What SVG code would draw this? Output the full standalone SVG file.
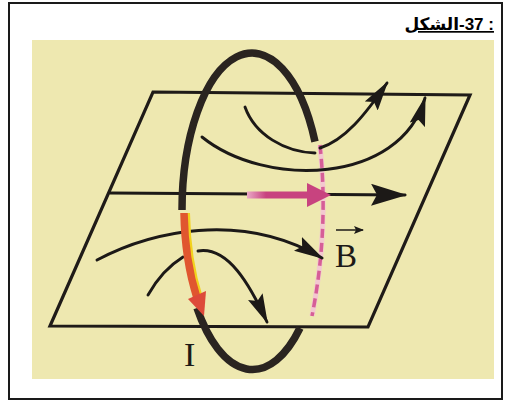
<svg xmlns="http://www.w3.org/2000/svg" width="505" height="401" viewBox="0 0 505 401">
  <style>
    .edge { fill: none; stroke: #1f1b18; stroke-width: 3.2; stroke-linejoin: miter; }
    .field { fill: none; stroke: #1c1917; stroke-width: 2.9; stroke-linecap: round; }
    .ring { fill: none; stroke: #2a2420; stroke-width: 7.5; stroke-linecap: butt; }
    .label { font-family: "Liberation Serif", "Times New Roman", serif; fill: #1d1a17; }
    .title { font-family: "Liberation Sans", "DejaVu Sans", sans-serif; font-weight: bold; font-size: 17px; fill: #000; text-decoration: underline; }
  </style>
  <defs>
    <marker id="head" markerUnits="userSpaceOnUse" viewBox="0 0 30 16" refX="28" refY="8" markerWidth="30" markerHeight="16" orient="auto">
      <path d="M0,0 L30,8 L0,16 L5,8 z" fill="#1c1917"/>
    </marker>
    <marker id="headBig" markerUnits="userSpaceOnUse" viewBox="0 0 36 22" refX="34" refY="11" markerWidth="36" markerHeight="22" orient="auto">
      <path d="M0,0 L36,11 L0,22 L6,11 z" fill="#1c1917"/>
    </marker>
    <marker id="headSmall" markerUnits="userSpaceOnUse" viewBox="0 0 10 8" refX="9" refY="4" markerWidth="10" markerHeight="8" orient="auto">
      <path d="M0,0 L10,4 L0,8 L2,4 z" fill="#1d1a17"/>
    </marker>
    <linearGradient id="bFade" x1="247" y1="0" x2="266" y2="0" gradientUnits="userSpaceOnUse">
      <stop offset="0" stop-color="#eaa9c6"/>
      <stop offset="1" stop-color="#c8437f"/>
    </linearGradient>
  </defs>

  <!-- frame -->
  <rect x="9" y="3" width="493" height="396" fill="#ffffff" stroke="#1a1a1a" stroke-width="2"/>

  <!-- title: Arabic word and figure number set as two runs so the word stays on the left -->
  <g id="title">
    <text class="title" x="459" y="30" text-anchor="end">الشكل</text>
    <text class="title" x="459" y="30" text-anchor="start">-37 :</text>
  </g>

  <!-- picture background -->
  <rect x="32" y="40" width="462" height="339" fill="#eee8b0"/>

  <!-- plane -->
  <g id="plane">
    <path class="edge" d="M153,92 L470,95 L368,327 L50,326 Z"/>
  </g>

  <!-- rear part of the loop, seen through the plane -->
  <g id="loop-rear">
    <path d="M320,145 Q329,230 312,316" fill="none" stroke="#f3c8d0" stroke-width="5"/>
    <path d="M320,145 Q329,230 312,316" fill="none" stroke="#d65e97" stroke-width="3.5" stroke-dasharray="9 5"/>
  </g>

  <!-- field lines -->
  <g id="connectors">
    <path class="field" d="M245,107 C255,135 285,152 315,153"/>
    <path class="field" d="M320,148 C345,140 365,115 387,83" marker-end="url(#head)"/>
    <path class="field" d="M202,137 C265,188 400,185 425,98" marker-end="url(#head)"/>
    <path class="field" d="M110,193 L405,195" marker-end="url(#headBig)"/>
    <path class="field" d="M97,260 C150,232 240,210 322,258" marker-end="url(#head)"/>
    <path class="field" d="M148,295 Q162,270 183,257"/>
    <path class="field" d="M198,251 C228,246 250,285 267,322" marker-end="url(#head)"/>
  </g>

  <!-- field vector B at the centre -->
  <g id="vector-B">
    <line x1="247" y1="195" x2="312" y2="195" stroke="url(#bFade)" stroke-width="7"/>
    <polygon points="307,183 331,195 307,207" fill="#c8437f"/>
  </g>

  <!-- front part of the loop -->
  <g id="loop">
    <path class="ring" d="M182,210 A70,157 0 0 1 315,141.6"/>
    <path class="ring" d="M197,308 A70,157 0 0 0 300,328"/>
  </g>

  <!-- current I along the loop -->
  <g id="current-I">
    <path d="M188,213 A70,157 0 0 0 201,298" fill="none" stroke="#f2d21c" stroke-width="4"/>
    <path d="M184,213 A70,157 0 0 0 197,298" fill="none" stroke="#e0562f" stroke-width="7.5"/>
    <polygon points="188,299 206,291 204,316" fill="#dd4a3a"/>
  </g>

  <!-- labels -->
  <g id="label-B">
    <text class="label" x="335" y="267" font-size="33">B</text>
    <line x1="336" y1="230" x2="363" y2="230" stroke="#1d1a17" stroke-width="1.5" marker-end="url(#headSmall)"/>
  </g>
  <g id="label-I">
    <text class="label" x="184" y="366" font-size="34">I</text>
  </g>
</svg>
